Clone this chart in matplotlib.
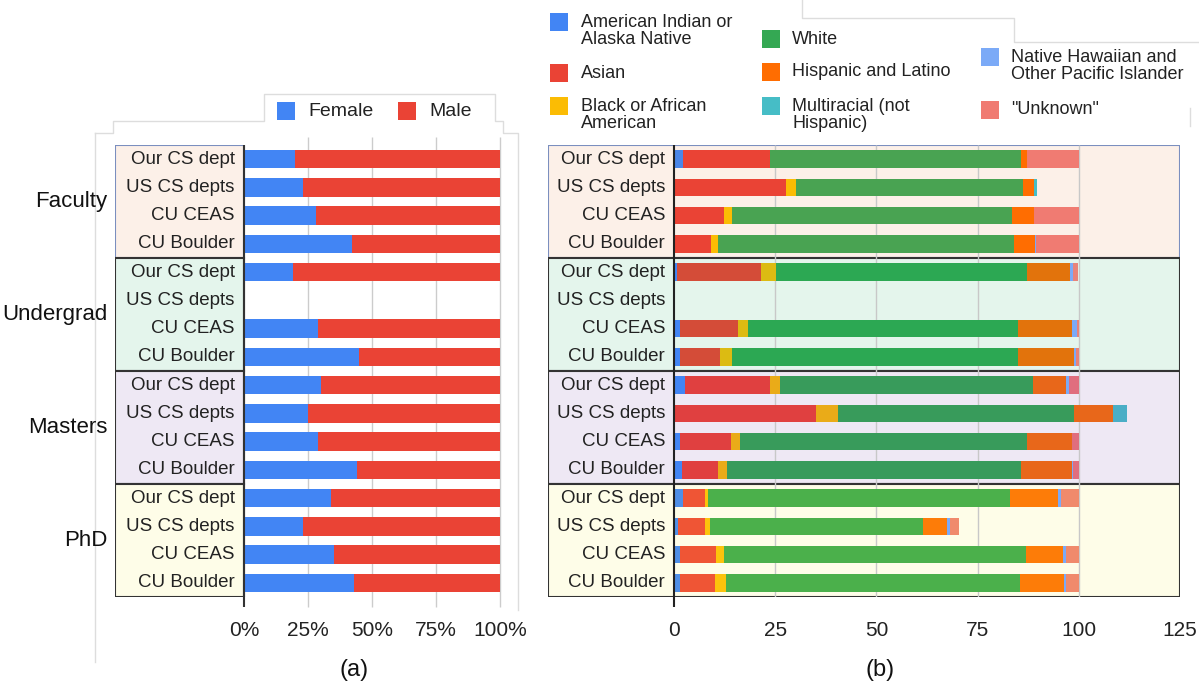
import matplotlib.pyplot as plt
from matplotlib.patches import Rectangle
from matplotlib.lines import Line2D
import numpy as np

plt.rcParams['font.family'] = ['Liberation Sans', 'DejaVu Sans']

W, H = 1199, 687

groups = ["Faculty", "Undergrad", "Masters", "PhD"]
sites = ["Our CS dept", "US CS depts", "CU CEAS", "CU Boulder"]

# (a) percent female, rows in group order; None = no data
female = [20, 23, 28, 42,
          19, None, 29, 45,
          30, 25, 29, 44,
          34, 23, 35, 43]

# (b) race / ethnicity, percent per row
races = ["American Indian or\nAlaska Native", "Asian", "Black or African\nAmerican",
         "White", "Hispanic and Latino", "Multiracial (not\nHispanic)",
         "Native Hawaiian and\nOther Pacific Islander", '"Unknown"']
amer_indian = [2.1, 0, 0.3, 0.3,   0.8, 0, 1.5, 1.5,   2.6, 0, 1.5, 1.9,   2.2, 0.9, 1.5, 1.5]
asian       = [21.7, 27.7, 12.1, 8.8,  20.6, 0, 14.4, 9.8,  21.2, 35.1, 12.5, 9.0,  5.5, 6.8, 8.8, 8.6]
black       = [0, 2.4, 2.0, 1.7,   3.9, 0, 2.4, 3.0,   2.4, 5.5, 2.3, 2.3,   0.8, 1.1, 2.1, 2.7]
white       = [61.9, 56.1, 69.1, 73.1,  62.0, 0, 66.7, 70.7,  62.4, 58.1, 71.0, 72.5,  74.5, 52.8, 74.5, 72.6]
hispanic    = [1.6, 2.7, 5.5, 5.3,  10.6, 0, 13.3, 13.7,  8.3, 9.8, 11.0, 12.6,  11.8, 5.9, 9.1, 10.9]
multiracial = [0, 0.7, 0, 0,   0, 0, 0, 0,   0, 3.5, 0, 0,   0, 0, 0, 0]
pacific     = [0, 0, 0, 0.3,   0.6, 0, 1.2, 0.7,   0.6, 0, 0, 0.3,   0.7, 0.6, 0.8, 0.5]
unknown     = [12.7, 0, 11.1, 10.5,  1.3, 0, 0.5, 0.6,  2.5, 0, 1.7, 1.4,  4.5, 2.3, 3.2, 3.2]
race_vals = [amer_indian, asian, black, white, hispanic, multiracial, pacific, unknown]

legend_colors = ["#4285f4", "#ea4335", "#fbbc04", "#34a853", "#ff6d01", "#46bdc6", "#7baaf7", "#f07b72"]
# each group's block in (b) uses slightly different shades
palette = {
    "Faculty":   ["#4a86e8", "#ea4335", "#fbbc04", "#49a352", "#ff6d01", "#46bdc6", "#7baaf7", "#f07b72"],
    "Undergrad": ["#4285f4", "#d44c38", "#dcbb12", "#2ca853", "#e2730c", "#46bdc6", "#7baaf7", "#e8837a"],
    "Masters":   ["#4285f4", "#e04040", "#eaab18", "#389b5b", "#e8671a", "#4aaec6", "#7baaf7", "#e06e7e"],
    "PhD":       ["#4f8fe6", "#ef5535", "#fcc30c", "#4bb04b", "#fd7c08", "#46bdc6", "#7baaf7", "#f08a6c"],
}
bg = ["#fcf0e8", "#e4f5ec", "#eee8f4", "#fefde8"]
edge = ["#7b8fbf", "#333333", "#333333", "#333333"]

rows = np.arange(len(groups) * len(sites))
row_group = [g for g in groups for _ in sites]
row_site = [s for _ in groups for s in sites]


def px_box(x0, y0, x1, y1):
    return [x0 / W, 1 - y1 / H, (x1 - x0) / W, (y1 - y0) / H]


fig = plt.figure(figsize=(W / 100, H / 100), dpi=100)

# faint screenshot panel edges
edges = [
    ([95, 95], [133, 662]),
    ([95, 113, 113, 264, 264, 495, 495, 503, 503, 518, 518],
     [133, 133, 121, 121, 94, 94, 121, 121, 133, 133, 610]),
    ([802, 802, 1014, 1014, 1199], [0, 18, 18, 42, 42]),
    ([1190, 1190], [108, 126]),
]
for xs, ys in edges:
    fig.add_artist(Line2D([x / W for x in xs], [1 - y / H for y in ys], color="#dddddd", lw=1))

# ---------------- (a) gender ----------------
y0, y1 = 145, 597
xl = -(244 - 115) / 2.56
ax = fig.add_axes(px_box(115, y0, 500, y1))
ax.set_xlim(xl, 100)
ax.set_ylim(15.5, -0.5)
for g in range(4):
    ax.add_patch(Rectangle((xl, g * 4 - 0.5), -xl, 4, facecolor=bg[g], edgecolor=edge[g], lw=1.5, zorder=1))
for v in [25, 50, 75, 100]:
    ax.vlines(v, -0.8, 15.85, color="#cccccc", lw=1, zorder=0, clip_on=False)
ax.vlines(0, -0.5, 15.85, color="#333333", lw=1.5, zorder=3, clip_on=False)

ok = [i for i in rows if female[i] is not None]
f = np.array([female[i] for i in ok], dtype=float)
ax.barh(ok, f, height=0.66, color="#4285f4", zorder=2)
ax.barh(ok, 100 - f, left=f, height=0.66, color="#ea4335", zorder=2)
for i in rows:
    ax.text(-3.7, i, row_site[i], ha="right", va="center", fontsize=13.5, color="#222222", zorder=4)
for g, name in enumerate(groups):
    fig.text(107 / W, 1 - (y0 + (g * 4 + 2) * (y1 - y0) / 16) / H, name,
             ha="right", va="center", fontsize=16, color="#111111")

ax.set_xticks([0, 25, 50, 75, 100])
ax.set_xticklabels(["0%", "25%", "50%", "75%", "100%"])
ax.tick_params(axis="x", length=0, pad=17, labelsize=15, labelcolor="#222222")
ax.set_yticks([])
for s in ax.spines.values():
    s.set_visible(False)

# legend (a)
for (mx, tx, lab, c) in [(277, 308, "Female", "#4285f4"), (398, 429, "Male", "#ea4335")]:
    fig.add_artist(Rectangle((mx / W, 1 - 120 / H), 18 / W, 18 / H, transform=fig.transFigure,
                             facecolor=c, edgecolor="none"))
    fig.text(tx / W, 1 - 111 / H, lab, ha="left", va="center", fontsize=14, color="#222222")

fig.text(354 / W, 1 - 670 / H, "(a)", ha="center", va="center", fontsize=17, color="#111111")

# ---------------- (b) race ----------------
px_unit = (1180 - 674) / 125
xl2 = -(674 - 548) / px_unit
bx = fig.add_axes(px_box(548, y0, 1180, y1))
bx.set_xlim(xl2, 125)
bx.set_ylim(15.5, -0.5)
for g in range(4):
    bx.add_patch(Rectangle((xl2, g * 4 - 0.5), 125 - xl2, 4, facecolor=bg[g], edgecolor=edge[g], lw=1.5, zorder=1))
for v in [25, 50, 75, 100]:
    bx.vlines(v, -0.5, 15.5, color="#c8c8c8", lw=1, zorder=1.5)
bx.vlines(0, -0.5, 15.85, color="#222222", lw=1.5, zorder=3, clip_on=False)

left = np.zeros(len(rows))
for k, vals in enumerate(race_vals):
    vals = np.array(vals, dtype=float)
    cols = [palette[row_group[i]][k] for i in rows]
    bx.barh(rows, vals, left=left, height=0.62, color=cols, zorder=2)
    left += vals
for i in rows:
    bx.text(-2.2, i, row_site[i], ha="right", va="center", fontsize=13.5, color="#222222", zorder=4)

bx.set_xticks([0, 25, 50, 75, 100, 125])
bx.tick_params(axis="x", length=0, pad=17, labelsize=15, labelcolor="#222222")
bx.set_yticks([])
for s in bx.spines.values():
    s.set_visible(False)

# legend (b): three columns, placed by hand
leg_pos = [(550, 581, 22, 31), (550, 581, 73, 73), (550, 581, 106, 115),
           (762, 792, 39, 39), (762, 792, 72, 72), (762, 792, 106, 115),
           (981, 1011, 57, 66), (981, 1011, 110, 110)]
for (mx, tx, my, ty), lab, c in zip(leg_pos, races, legend_colors):
    fig.add_artist(Rectangle((mx / W, 1 - (my + 9) / H), 18 / W, 18 / H, transform=fig.transFigure,
                             facecolor=c, edgecolor="none"))
    fig.text(tx / W, 1 - ty / H, lab, ha="left", va="center", fontsize=13, color="#222222",
             linespacing=1.05)

fig.text(880 / W, 1 - 670 / H, "(b)", ha="center", va="center", fontsize=17, color="#111111")

fig.savefig("out.png", dpi=100, facecolor="white")
